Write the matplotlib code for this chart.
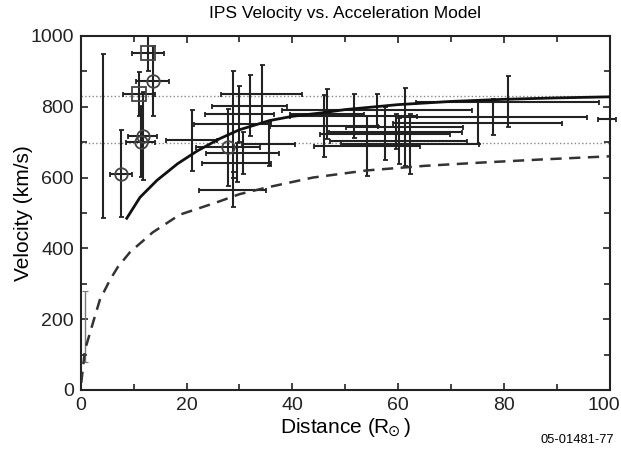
import matplotlib
matplotlib.use('Agg')
import matplotlib.pyplot as plt
from matplotlib.ticker import MultipleLocator, FuncFormatter

plt.rcParams['font.family'] = ['Liberation Sans', 'DejaVu Sans']

# --- Data ---
# plain crosshair measurements (distance in R_sun, velocity km/s)
plain_x = [4.3, 21.0, 34.2, 31.9, 30.0, 28.7, 30.6, 29.5, 28.7, 35.5,
           45.9, 46.5, 51.6, 54.1, 57.5, 59.5, 60.1, 61.2, 62.2, 75.0,
           77.9, 80.7, 56.0]
plain_v = [718, 705, 836, 803, 780, 750, 670, 642, 566, 695,
           746, 780, 774, 690, 724, 730, 704, 743, 695, 755,
           772, 814, 790]
plain_xerr = [0, 4.8, 7.6, 7.1, 6.6, 7.3, 6.9, 6.5, 6.4, 5.0,
              10.2, 7.0, 12.0, 10.0, 12.3, 12.5, 13.0, 11.0, 13.0, 16.0,
              17.8, 17.3, 18.0]
plain_verr = [231, 87, 82, 87, 80, 150, 60, 55, 49, 62,
              87, 70, 61, 85, 75, 50, 65, 111, 84, 59,
              51, 72, 45]

# faint point near the Sun
faint_x = [0.9]
faint_v = [179]
faint_verr = [100]

# point at the right edge
edge_x = [99.5]
edge_v = [766]
edge_xerr = [1.7]

circle_x = [7.6, 13.6, 11.7, 11.3, 27.8]
circle_v = [611, 873, 718, 701, 685]
circle_xerr = [2.0, 3.1, 2.8, 2.8, 6.1]
circle_verr = [123, 100, 125, 100, 108]

square_x = [12.7, 11.0]
square_v = [952, 836]
square_xerr = [3.0, 3.1]
square_verr = [50, 62]

# acceleration model curves
fast_x = [8.7, 11.2, 14.4, 18.3, 22, 26.3, 30, 35.7, 40, 45.7, 50, 60, 70, 80, 90, 100]
fast_v = [485, 544, 592, 639, 675, 710, 735, 761, 773, 783, 792, 806, 815, 821, 825, 828]
slow_x = [0.1, 0.8, 2.3, 3.6, 5.5, 7.0, 9.3, 13.6, 18.7, 25.7, 30, 35.2, 43.9,
          54, 65, 75.4, 87, 100]
slow_v = [20, 113, 189, 254, 310, 347, 389, 445, 495, 530, 553, 572, 600,
          620, 633, 642, 651, 660]

# reference speeds (dotted)
ref_v = [830, 697]

fig = plt.figure(figsize=(6.21, 4.55), dpi=100)
ax = fig.add_axes([0.130, 0.143, 0.852, 0.778])

for v in ref_v:
    ax.axhline(v, color='#888888', ls=':', lw=1.0, zorder=1)

ebar = dict(ecolor='#222222', elinewidth=1.5, capsize=1.8, capthick=1.3, zorder=3)
ax.errorbar(plain_x, plain_v, xerr=plain_xerr, yerr=plain_verr, fmt='none', **ebar)
ax.errorbar(faint_x, faint_v, yerr=faint_verr, fmt='none', ecolor='#777777',
            elinewidth=1.0, capsize=2.5, capthick=0.8, zorder=3)
eb = ax.errorbar(edge_x, edge_v, xerr=edge_xerr, fmt='none', **ebar)
for art in eb.lines[1] + eb.lines[2]:
    art.set_clip_on(False)

ax.errorbar(circle_x, circle_v, xerr=circle_xerr, yerr=circle_verr, fmt='o',
            mfc='none', mec='#444444', mew=1.3, ms=9, **ebar)
ax.errorbar(square_x, square_v, xerr=square_xerr, yerr=square_verr, fmt='s',
            mfc='none', mec='#444444', mew=1.3, ms=10, **ebar)

ax.plot(fast_x, fast_v, color='#111111', lw=2.0, zorder=4)
ax.plot(slow_x, slow_v, color='#333333', lw=1.8, ls=(0, (4.5, 3)), zorder=4)

ax.set_xlim(0, 100)
ax.set_ylim(0, 1000)
ax.xaxis.set_major_locator(MultipleLocator(20))
ax.xaxis.set_minor_locator(MultipleLocator(10))
ax.yaxis.set_major_locator(MultipleLocator(200))
ax.yaxis.set_minor_locator(MultipleLocator(100))
# the "100" label is drawn separately, nudged left so it stays inside the figure
ax.xaxis.set_major_formatter(FuncFormatter(lambda val, pos: '' if val >= 100 else f'{val:.0f}'))
ax.tick_params(which='both', direction='in', top=True, right=True, width=1.2, colors='#222222')
ax.tick_params(which='major', length=5, labelsize=14, pad=5)
ax.tick_params(which='minor', length=4)
for s in ax.spines.values():
    s.set_linewidth(1.5)
    s.set_color('#222222')

ax.annotate('100', xy=(100, 0), xycoords='data', xytext=(-4, -5), textcoords='offset points',
            ha='center', va='top', fontsize=14, color='#222222', annotation_clip=False)

ax.set_title('IPS Velocity vs. Acceleration Model', fontsize=12.5, pad=13)
ax.set_xlabel(r'Distance (R$_{\!\!\odot}$)', fontsize=15, labelpad=2)
ax.set_ylabel('Velocity (km/s)', fontsize=15, labelpad=-2)
fig.text(0.929, 0.033, '05-01481-77', fontsize=9.3, ha='center', va='center')

fig.savefig('out.png', dpi=100)
